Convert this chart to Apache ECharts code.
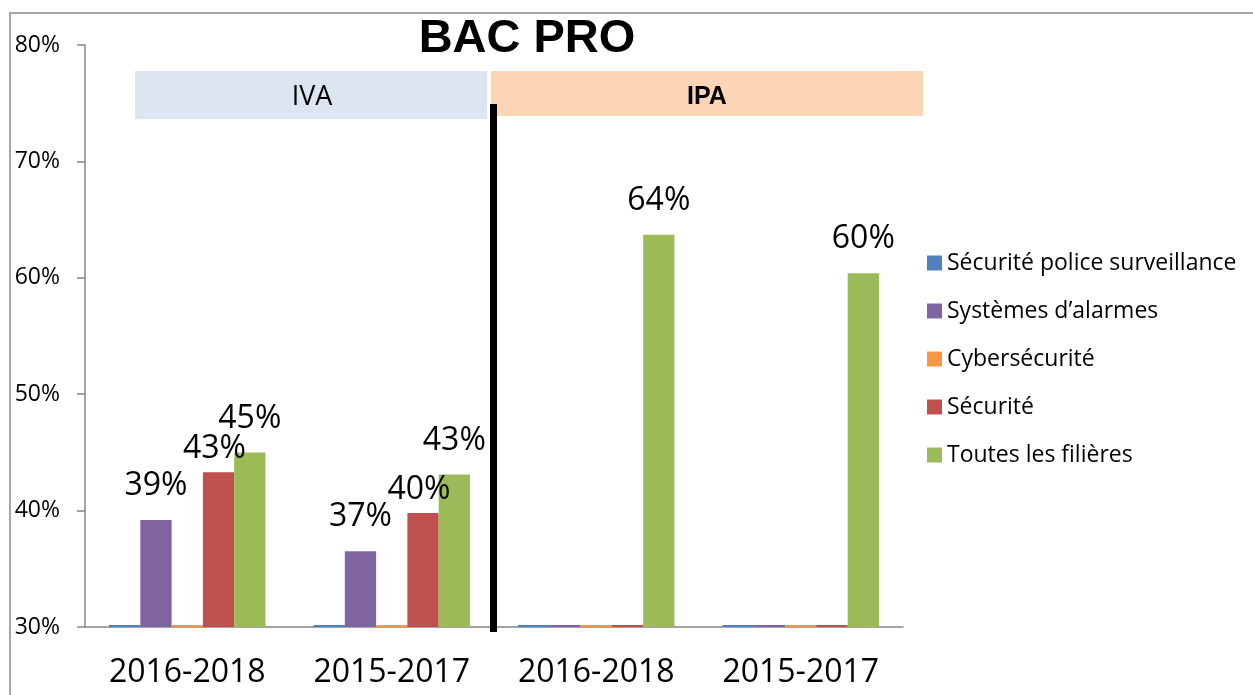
<!DOCTYPE html>
<html>
<head>
<meta charset="utf-8">
<script src="https://cdn.jsdelivr.net/npm/echarts@6.0.0/dist/echarts.min.js"></script>
<style>
  html, body { margin: 0; background: #fff; }
  #chart { width: 1253px; height: 695px; }
</style>
</head>
<body>
<div id="chart"></div>
<script>
// data (percent)
const categories = ['2016-2018', '2015-2017', '2016-2018', '2015-2017']
const seriesNames = [
  'Sécurité police surveillance',
  'Systèmes d\u2019alarmes',
  'Cybersécurité',
  'Sécurité',
  'Toutes les filières',
]
const police = [0, 0, 0, 0]
const alarmes = [39.2, 36.5, 0, 0]
const cyber = [0, 0, 0, 0]
const securite = [43.3, 39.8, 0, 0]
const toutes = [45.0, 43.1, 63.7, 60.4]
const colors = ['#4f81bd', '#8064a2', '#f79646', '#c0504d', '#9bbb59']

const Y_MIN = 30
const Y_MAX = 80
const Y_STEP = 10

const FONT = "'Open Sans', 'Noto Sans', sans-serif"

// empty values sit on the axis floor as a thin sliver, without a label
function toBarData(values) {
  return values.map(v => v > 0
    ? { value: v, label: { show: true } }
    : { value: Y_MIN + 0.17, label: { show: false } })
}

const allValues = [police, alarmes, cyber, securite, toutes]
// the "Sécurité" labels sit a bit lower and left in the original
const labelOffsets = [[0, 0], [0, 0], [0, 0], [-4, 11], [0, 0]]

const series = allValues.map((values, i) => ({
  name: seriesNames[i],
  type: 'bar',
  data: toBarData(values),
  barGap: '0%',
  barCategoryGap: '23.5%',
  itemStyle: { color: colors[i] },
  label: {
    position: 'top',
    distance: 18,
    offset: labelOffsets[i],
    fontFamily: FONT,
    fontSize: 32,
    color: '#000',
    formatter: p => Math.round(p.value) + '%',
  },
}))

const chart = echarts.init(document.getElementById('chart'))

chart.setOption({
  animation: false,
  color: colors,
  title: {
    text: 'BAC PRO',
    left: 522,
    top: 11,
    textAlign: 'center',
    textStyle: {
      fontFamily: "'Liberation Sans', Arial, sans-serif",
      fontWeight: 'bold',
      fontSize: 47,
      color: '#000',
    },
  },
  legend: {
    orient: 'vertical',
    left: 922,
    top: 245,
    itemWidth: 15,
    itemHeight: 15,
    itemGap: 22,
    icon: 'rect',
    textStyle: {
      fontFamily: FONT,
      fontSize: 23,
      lineHeight: 26,
      color: '#000',
    },
    data: seriesNames,
  },
  grid: {
    left: 85,
    right: 350,
    top: 45,
    bottom: 68,
  },
  xAxis: {
    type: 'category',
    data: categories,
    axisLine: { lineStyle: { color: '#868686', width: 1.5 } },
    axisTick: { length: 10, lineStyle: { color: '#868686', width: 1.5 } },
    axisLabel: {
      margin: 30,
      fontFamily: FONT,
      fontSize: 32,
      color: '#000',
    },
  },
  yAxis: {
    type: 'value',
    min: Y_MIN,
    max: Y_MAX,
    interval: Y_STEP,
    splitLine: { show: false },
    axisLine: { show: true, lineStyle: { color: '#868686', width: 1.5 } },
    axisTick: { show: true, length: 8, lineStyle: { color: '#868686', width: 1.5 } },
    axisLabel: {
      margin: 25,
      fontFamily: FONT,
      fontSize: 23,
      color: '#000',
      formatter: v => v + '%',
    },
  },
  graphic: [
    {
      type: 'rect',
      z: -1,
      shape: { x: 10, y: 13, width: 1300, height: 720 },
      style: { fill: 'none', stroke: '#a6a6a6', lineWidth: 2 },
    },
    {
      type: 'rect',
      shape: { x: 135, y: 71, width: 352, height: 48 },
      style: { fill: '#dce6f2' },
    },
    {
      type: 'text',
      x: 312,
      y: 97,
      style: {
        text: 'IVA',
        fontFamily: FONT,
        fontSize: 27,
        fill: '#000',
        align: 'center',
        verticalAlign: 'middle',
      },
    },
    {
      type: 'rect',
      shape: { x: 491, y: 71, width: 432, height: 45 },
      style: { fill: '#fbd5b5' },
    },
    {
      type: 'text',
      x: 707,
      y: 97,
      style: {
        text: 'IPA',
        fontFamily: "'Liberation Sans Narrow', 'Liberation Sans', Arial, sans-serif",
        fontWeight: 'bold',
        fontSize: 25,
        fill: '#000',
        align: 'center',
        verticalAlign: 'middle',
      },
    },
    {
      type: 'rect',
      z: 10,
      shape: { x: 490, y: 104, width: 7, height: 528 },
      style: { fill: '#000' },
    },
  ],
  series: series,
})
</script>
</body>
</html>
